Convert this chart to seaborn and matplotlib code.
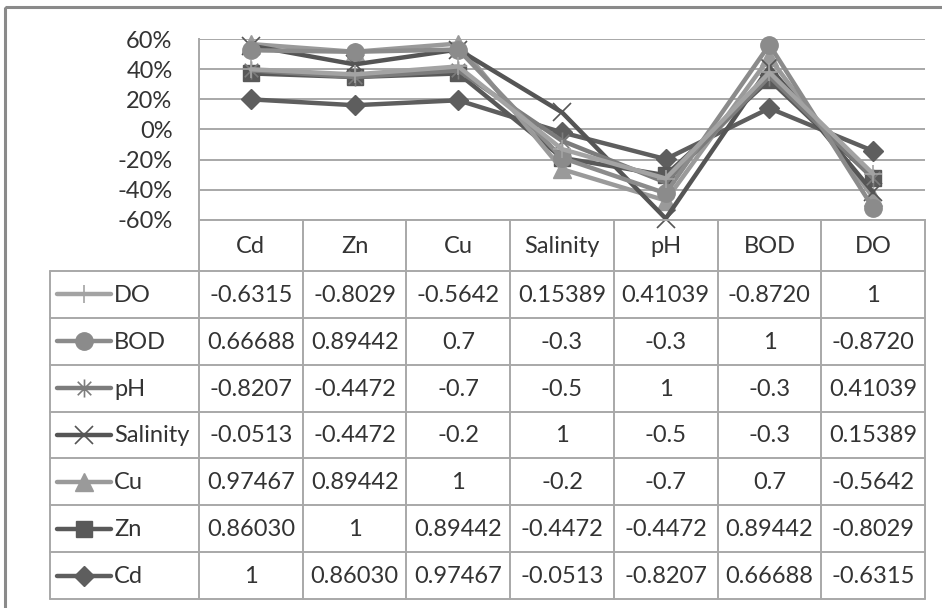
import numpy as np
import pandas as pd
import matplotlib
matplotlib.use("Agg")
import matplotlib.pyplot as plt
from matplotlib.path import Path
from matplotlib.patches import Rectangle
from matplotlib.ticker import PercentFormatter
import seaborn as sns

# Categories along the x axis (and table columns)
categories = ["Cd", "Zn", "Cu", "Salinity", "pH", "BOD", "DO"]

# Correlation coefficients per series, as printed in the data table
cd_vals = ["1", "0.86030", "0.97467", "-0.0513", "-0.8207", "0.66688", "-0.6315"]
zn_vals = ["0.86030", "1", "0.89442", "-0.4472", "-0.4472", "0.89442", "-0.8029"]
cu_vals = ["0.97467", "0.89442", "1", "-0.2", "-0.7", "0.7", "-0.5642"]
salinity_vals = ["-0.0513", "-0.4472", "-0.2", "1", "-0.5", "-0.3", "0.15389"]
ph_vals = ["-0.8207", "-0.4472", "-0.7", "-0.5", "1", "-0.3", "0.41039"]
bod_vals = ["0.66688", "0.89442", "0.7", "-0.3", "-0.3", "1", "-0.8720"]
do_vals = ["-0.6315", "-0.8029", "-0.5642", "0.15389", "0.41039", "-0.8720", "1"]

series_names = ["Cd", "Zn", "Cu", "Salinity", "pH", "BOD", "DO"]
series_text = [cd_vals, zn_vals, cu_vals, salinity_vals, ph_vals, bod_vals, do_vals]

# --- styling -------------------------------------------------------------
sns.set_theme(style="white")
plt.rcParams["font.family"] = ["Lato", "DejaVu Sans"]
plt.rcParams["axes.unicode_minus"] = False

colors = {"Cd": "#5e5e5e", "Zn": "#595959", "Cu": "#9a9a9a", "Salinity": "#555555",
          "pH": "#7c7c7c", "BOD": "#8b8b8b", "DO": "#a3a3a3"}

# Excel-style "star" marker: an x crossed with a vertical bar
star = Path([(0, -1), (0, 1), (-0.75, -0.75), (0.75, 0.75), (-0.75, 0.75), (0.75, -0.75)],
            [Path.MOVETO, Path.LINETO, Path.MOVETO, Path.LINETO, Path.MOVETO, Path.LINETO])
markers = {"Cd": "D", "Zn": "s", "Cu": "^", "Salinity": "x", "pH": star, "BOD": "o", "DO": "+"}
msizes = {"Cd": 10, "Zn": 11.5, "Cu": 12.5, "Salinity": 13, "pH": 13, "BOD": 12.5, "DO": 13}
medge = {"Cd": 1, "Zn": 1, "Cu": 1, "Salinity": 1.2, "pH": 1.2, "BOD": 1, "DO": 1.2}

text_color = "#333333"
grid_color = "#a8a8a8"
fs = 17

# --- 100% stacked values ----------------------------------------------------
vals = np.array([[float(s) for s in row] for row in series_text])
stacked = np.cumsum(vals, axis=0) / np.abs(vals).sum(axis=0)

df = pd.DataFrame({
    "category": np.tile(categories, len(series_names)),
    "series": np.repeat(series_names, len(categories)),
    "share": stacked.ravel(),
})

W, H = 942, 608
fig = plt.figure(figsize=(W / 100, H / 100), dpi=100)
fig.patch.set_facecolor("white")

# overlay for the data table and the chart frame (pixel coordinates)
ov = fig.add_axes([0, 0, 1, 1], zorder=0)
ov.set_xlim(0, W)
ov.set_ylim(H, 0)
ov.axis("off")

px_left, px_right, px_top, px_bottom = 199, 925, 39, 220
ax = fig.add_axes([px_left / W, (H - px_bottom) / H,
                   (px_right - px_left) / W, (px_bottom - px_top) / H], zorder=1)
ax.patch.set_alpha(0)

sns.lineplot(data=df, x="category", y="share", hue="series", hue_order=series_names,
             palette=colors, sort=False, linewidth=3.2, legend=False,
             errorbar=None, ax=ax)

for line, name in zip(ax.lines, series_names):
    line.set_marker(markers[name])
    line.set_markersize(msizes[name])
    line.set_markerfacecolor(colors[name])
    line.set_markeredgecolor(colors[name])
    line.set_markeredgewidth(medge[name])
    line.set_clip_on(False)
    line.set_solid_joinstyle("round")

ax.set_xlim(-0.5, len(categories) - 0.5)
ax.set_ylim(-0.6, 0.6)
ax.set_yticks(np.arange(-0.6, 0.61, 0.2))
ax.yaxis.set_major_formatter(PercentFormatter(1.0, decimals=0))
ax.set_xticks([])
ax.set_xlabel("")
ax.set_ylabel("")
ax.yaxis.grid(True, color=grid_color, lw=1.4)
ax.set_axisbelow(True)
for side in ("top", "right"):
    ax.spines[side].set_visible(False)
for side in ("left", "bottom"):
    ax.spines[side].set_color(grid_color)
    ax.spines[side].set_linewidth(1.4)
ax.tick_params(axis="y", length=0, pad=19, labelsize=fs, labelcolor=text_color)

# --- data table ----------------------------------------------------------------
ncol = len(categories)
col_w = (px_right - px_left) / ncol
col_edges = [px_left + i * col_w for i in range(ncol + 1)]
header_bottom = 271
table_bottom = 599
legend_left = 50
row_edges = np.linspace(header_bottom, table_bottom, len(series_names) + 1)
lw_tab = 1.4

for x in col_edges:
    ov.plot([x, x], [px_bottom, table_bottom], color=grid_color, lw=lw_tab)
ov.plot([legend_left, legend_left], [header_bottom, table_bottom], color=grid_color, lw=lw_tab)
for y in row_edges:
    ov.plot([legend_left, px_right], [y, y], color=grid_color, lw=lw_tab)

for i, cat in enumerate(categories):
    ov.text(col_edges[i] + col_w / 2, (px_bottom + header_bottom) / 2 + 1, cat,
            ha="center", va="center", fontsize=fs, color=text_color)

table_order = series_names[::-1]
for r, name in enumerate(table_order):
    yc = (row_edges[r] + row_edges[r + 1]) / 2
    row = series_text[series_names.index(name)]
    for i, s in enumerate(row):
        ov.text(col_edges[i] + col_w / 2, yc + 1, s, ha="center", va="center",
                fontsize=fs, color=text_color)
    # legend key
    ov.plot([57, 111], [yc, yc], color=colors[name], lw=3.2, solid_capstyle="round")
    ov.plot([84], [yc], marker=markers[name], ms=msizes[name], color=colors[name],
            mfc=colors[name], mec=colors[name], mew=medge[name], linestyle="none")
    ov.text(114, yc + 1, name, ha="left", va="center", fontsize=fs, color=text_color)

# chart frame
ov.add_patch(Rectangle((5, 7), 960, 640, fill=False, ec="#8a8a8a", lw=2.2, clip_on=False))

fig.savefig("out.png", dpi=100, facecolor="white")
